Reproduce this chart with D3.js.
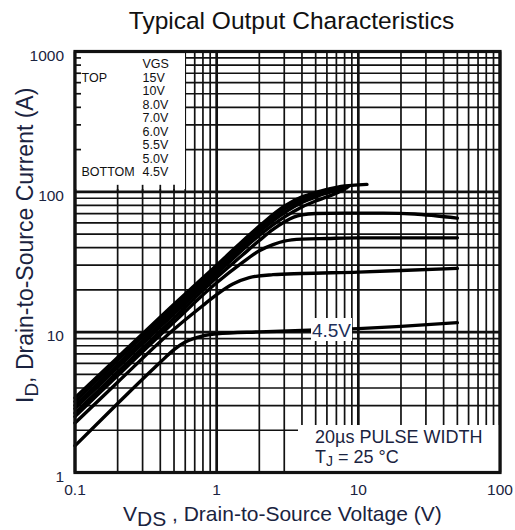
<!DOCTYPE html>
<html>
<head>
<meta charset="utf-8">
<script src="https://cdn.jsdelivr.net/npm/d3@7"></script>
<style>
body { margin: 0; background: #fff; }
svg { display: block; font-family: "Liberation Sans", Arial, sans-serif; }
</style>
</head>
<body>
<div id="chart"></div>
<script>
var w = 515, h = 530;
var plotL = 75, plotR = 500, plotT = 51.5, plotB = 472.5;

// axis ticks
var xTicks = [0.1, 1, 10, 100];
var yTicks = [1, 10, 100, 1000];

// legend, top to bottom
var vgsLabels = ["15V", "10V", "8.0V", "7.0V", "6.0V", "5.5V", "5.0V", "4.5V"];

// curves: [VDS (V), ID (A)]
var curve15V = [[0.1,3.4],[0.2,6.6],[0.5,15.8],[1,30],[2,57],[3,79],[4,92],[5,99],[6,104],[7,107.5],[8,110],[10,112],[11.5,113]];
var curve10V = [[0.1,3.2],[0.2,6.3],[0.5,15],[1,28.7],[2,54.5],[3,75],[4,88],[5,96],[6,101.5],[7,105.5],[8.5,109]];
var curve8V  = [[0.1,3.0],[0.2,5.9],[0.5,14.2],[1,27.3],[2,52],[3,71],[4,84],[5,92],[6,98],[7,103],[8.3,107]];
var curve7V  = [[0.1,2.85],[0.2,5.6],[0.5,13.5],[1,26],[2,49],[3,66],[4,78],[5,86],[6,92],[7,98],[8,104]];
var curve6V  = [[0.1,2.65],[0.2,5.2],[0.5,12.6],[1,24.5],[1.5,35],[2,45],[2.5,54],[3,61],[3.5,66],[4,68.5],[5,70],[8,70.5],[15,70.5],[25,69.5],[35,67.5],[50,65]];
var curve55V = [[0.1,2.5],[0.2,4.9],[0.5,11.8],[1,22.5],[1.5,31],[2,38],[2.5,42],[3,44.5],[4,46],[6,46.5],[10,47],[20,47],[50,47]];
var curve5V  = [[0.1,2.25],[0.2,4.4],[0.5,10.5],[0.8,15.5],[1,18.5],[1.3,22],[1.7,24.5],[2.5,25.7],[4,26.2],[10,26.8],[20,27.5],[50,28.5]];
var curve45V = [[0.1,1.55],[0.2,3.1],[0.4,6.1],[0.5,7.5],[0.6,8.5],[0.8,9.4],[1,9.75],[2,10.05],[5,10.35],[10,10.6],[20,11],[50,11.7]];

var curves = [curve15V, curve10V, curve8V, curve7V, curve6V, curve55V, curve5V, curve45V];

var svg = d3.select("#chart").append("svg").attr("width", w).attr("height", h);
svg.append("rect").attr("width", w).attr("height", h).attr("fill", "#fff");

var x = d3.scaleLog().domain([0.1, 100]).range([plotL, plotR]);
var y = d3.scaleLog().domain([1, 1000]).range([plotB, plotT]);

function isDecade(v) {
  var l = Math.log10(v);
  return Math.abs(l - Math.round(l)) < 1e-9;
}

// grid
var grid = svg.append("g");
grid.selectAll("line.vx").data(x.ticks()).enter().append("line")
  .attr("x1", d => x(d)).attr("x2", d => x(d))
  .attr("y1", plotT).attr("y2", plotB)
  .attr("stroke", "#111").attr("stroke-width", d => isDecade(d) ? 2.7 : 1.7);
grid.selectAll("line.hy").data(y.ticks()).enter().append("line")
  .attr("y1", d => y(d)).attr("y2", d => y(d))
  .attr("x1", plotL).attr("x2", plotR)
  .attr("stroke", "#111").attr("stroke-width", d => isDecade(d) ? 2.7 : 1.7);

// legend box hides the grid, leaving short ticks
var legBoxR = 185, legBoxB = 189;
svg.append("rect").attr("x", plotL).attr("y", plotT)
  .attr("width", legBoxR - plotL).attr("height", legBoxB - plotT).attr("fill", "#fff");
svg.selectAll("line.lt").data(y.ticks().filter(d => d > 100 && d < 1000)).enter().append("line")
  .attr("x1", plotL).attr("x2", plotL + 6).attr("y1", d => y(d)).attr("y2", d => y(d))
  .attr("stroke", "#111").attr("stroke-width", 1.7);
svg.selectAll("line.bt").data(x.ticks().filter(d => d > 0.1 && x(d) < legBoxR)).enter().append("line")
  .attr("x1", d => x(d)).attr("x2", d => x(d)).attr("y1", y(100)).attr("y2", y(100) - 7)
  .attr("stroke", "#111").attr("stroke-width", 1.7);

// annotation box, bottom right
svg.append("rect").attr("x", 298).attr("y", 425)
  .attr("width", plotR - 298).attr("height", plotB - 425).attr("fill", "#fff");

// curves
var line = d3.line().x(d => x(d[0])).y(d => y(d[1])).curve(d3.curveMonotoneX);
svg.append("g").selectAll("path").data(curves).enter().append("path")
  .attr("d", line).attr("fill", "none").attr("stroke", "#000")
  .attr("stroke-width", 3.4).attr("stroke-linejoin", "round").attr("stroke-linecap", "round");

// 4.5V callout
svg.append("rect").attr("x", 311).attr("y", 318).attr("width", 41).attr("height", 23).attr("fill", "#fff");
svg.append("text").attr("x", 331.5).attr("y", 337).attr("text-anchor", "middle")
  .attr("font-size", 19).attr("fill", "#1d2f5a").text("4.5V");

// frame
svg.append("rect").attr("x", plotL).attr("y", plotT)
  .attr("width", plotR - plotL).attr("height", plotB - plotT)
  .attr("fill", "none").attr("stroke", "#111").attr("stroke-width", 3.2);

// legend text
var leg = svg.append("g").attr("font-size", 12.5).attr("fill", "#111");
leg.append("text").attr("x", 142.5).attr("y", 68).text("VGS");
leg.append("text").attr("x", 81.5).attr("y", 81.7).text("TOP");
leg.append("text").attr("x", 81.5).attr("y", 81.7 + 7 * 13.5).text("BOTTOM");
leg.selectAll("text.v").data(vgsLabels).enter().append("text")
  .attr("x", 142.5).attr("y", (d, i) => 81.7 + i * 13.5).text(d => d);

// annotation text
var note = svg.append("g").attr("font-size", 18).attr("fill", "#1a2340");
note.append("text").attr("x", 315).attr("y", 443).text("20\u00b5s PULSE WIDTH");
var tj = note.append("text").attr("x", 315).attr("y", 463);
tj.append("tspan").text("T");
tj.append("tspan").attr("font-size", 14).attr("dy", 3).text("J");
tj.append("tspan").attr("dy", -3).text(" = 25 \u00b0C");

// tick labels
var lab = svg.append("g").attr("font-size", 15.5).attr("fill", "#1a2340");
lab.selectAll("text.xt").data(xTicks).enter().append("text")
  .attr("x", d => x(d)).attr("y", 495).attr("text-anchor", "middle").text(d => d);
lab.selectAll("text.yt").data(yTicks).enter().append("text")
  .attr("x", 64).attr("y", d => y(d) + 9).attr("text-anchor", "end").text(d => d);

// title
svg.append("text").attr("x", 291.5).attr("y", 29).attr("text-anchor", "middle")
  .attr("font-size", 24.5).attr("fill", "#111").text("Typical Output Characteristics");

// axis titles
var xt = svg.append("text").attr("x", 123).attr("y", 521).attr("font-size", 21).attr("fill", "#1a2340");
xt.append("tspan").text("V");
xt.append("tspan").attr("dy", 5).text("DS");
xt.append("tspan").attr("dy", -5).text(" , Drain-to-Source Voltage (V)");

var yt = svg.append("text").attr("transform", "translate(33,403) rotate(-90)")
  .attr("font-size", 23).attr("fill", "#1a2340");
yt.append("tspan").text("I");
yt.append("tspan").attr("dy", 5).attr("font-size", 19).text("D");
yt.append("tspan").attr("dy", -5).text(",  Drain-to-Source Current (A)");
</script>
</body>
</html>
